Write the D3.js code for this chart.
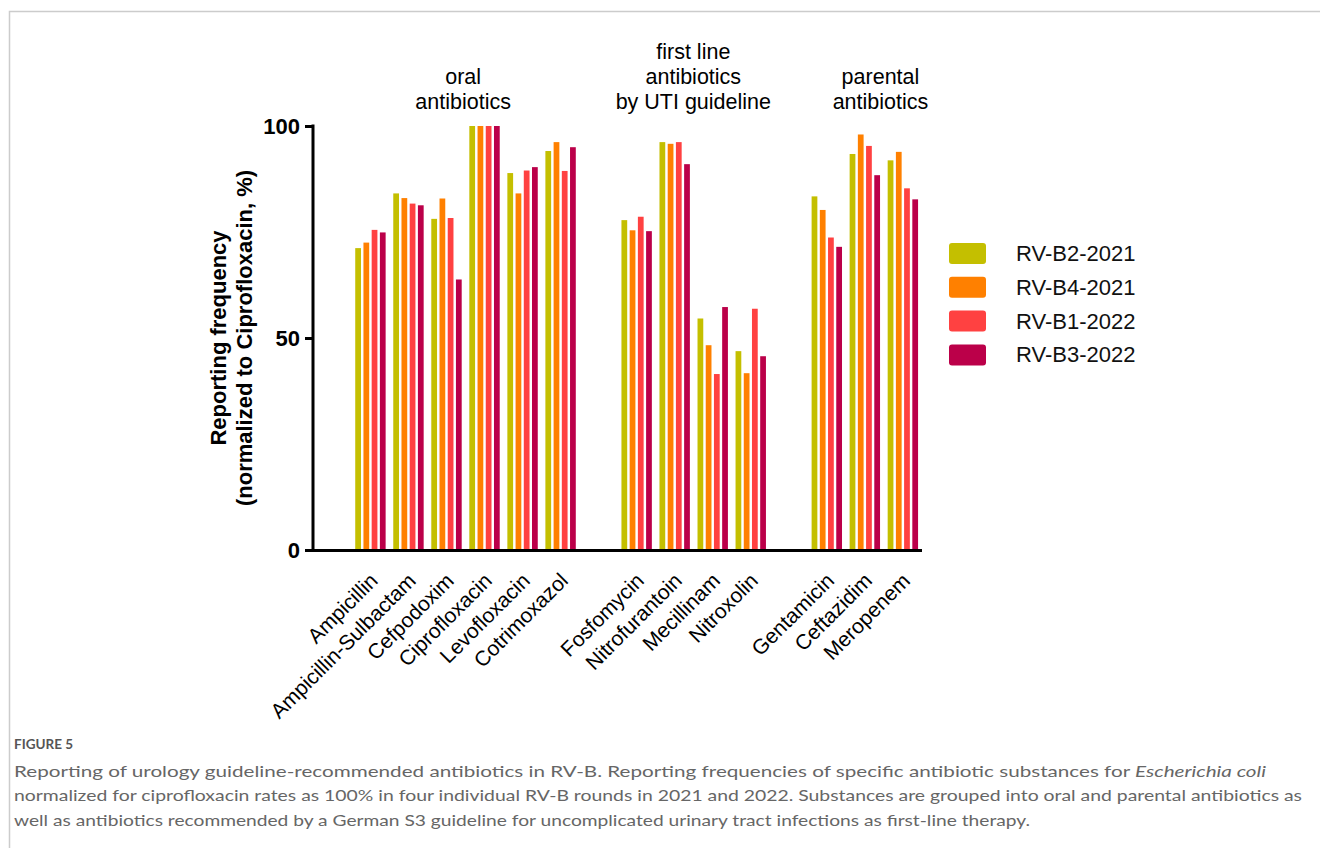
<!DOCTYPE html>
<html>
<head>
<meta charset="utf-8">
<script src="https://cdn.jsdelivr.net/npm/d3@7"></script>
<style>
  body { margin: 0; background: #fff; }
  svg { display: block; }
</style>
</head>
<body>
<div id="chart"></div>
<script>
// data
var categories = ["Ampicillin", "Ampicillin-Sulbactam", "Cefpodoxim", "Ciprofloxacin", "Levofloxacin", "Cotrimoxazol",
                  "Fosfomycin", "Nitrofurantoin", "Mecillinam", "Nitroxolin",
                  "Gentamicin", "Ceftazidim", "Meropenem"];
var groupOf = [0, 0, 0, 0, 0, 0, 1, 1, 1, 1, 2, 2, 2];
var groupLabels = [["oral", "antibiotics"], ["first line", "antibiotics", "by UTI guideline"], ["parental", "antibiotics"]];
var seriesNames = ["RV-B2-2021", "RV-B4-2021", "RV-B1-2022", "RV-B3-2022"];
var rvB2_2021 = [71.2, 84.1, 78.1, 100, 88.9, 94.1, 77.8, 96.2, 54.6, 46.9, 83.4, 93.4, 91.9];
var rvB4_2021 = [72.5, 83.0, 82.9, 100, 84.1, 96.2, 75.4, 95.8, 48.3, 41.7, 80.2, 98.0, 93.9];
var rvB1_2022 = [75.5, 81.7, 78.3, 100, 89.5, 89.4, 78.6, 96.2, 41.5, 56.9, 73.7, 95.3, 85.3];
var rvB3_2022 = [74.9, 81.3, 63.8, 100, 90.3, 95.0, 75.2, 91.0, 57.3, 45.7, 71.5, 88.4, 82.7];
var yTicks = [0, 50, 100];

var seriesValues = [rvB2_2021, rvB4_2021, rvB1_2022, rvB3_2022];
var colors = ["#c4bf00", "#ff8000", "#ff4141", "#bb0049"];

var W = 1320, H = 848;
var svg = d3.select("#chart").append("svg")
    .attr("width", W)
    .attr("height", H);

// frame lines of the figure box
svg.append("path")
    .attr("d", "M9.5,848V11.5H1320")
    .attr("fill", "none")
    .attr("stroke", "#cccccc")
    .attr("stroke-width", 1.5);

var font = "'Liberation Sans', Arial, sans-serif";

// slots: one empty slot before, and one between each group
var slots = ["_pad"];
categories.forEach(function(c, i) {
    if (i > 0 && groupOf[i] !== groupOf[i - 1]) slots.push("_gap" + groupOf[i]);
    slots.push(c);
});

var x = d3.scaleBand().domain(slots).range([313, 921.5]).padding(0);
var xs = d3.scaleBand().domain(seriesNames).range([4.2, 34.6]).paddingInner(0.3).paddingOuter(0);
var y = d3.scaleLinear().domain([0, 100]).range([550, 126]);

// bars
var rows = [];
categories.forEach(function(c, i) {
    seriesNames.forEach(function(s, j) {
        rows.push({cat: c, series: s, value: seriesValues[j][i], color: colors[j]});
    });
});

svg.append("g").selectAll("rect")
    .data(rows)
    .enter().append("rect")
    .attr("x", d => x(d.cat) + xs(d.series))
    .attr("y", d => y(d.value))
    .attr("width", xs.bandwidth())
    .attr("height", d => y(0) - y(d.value))
    .attr("fill", d => d.color);

// y axis
var yAxis = svg.append("g")
    .attr("transform", "translate(313,0)")
    .call(d3.axisLeft(y).tickValues(yTicks).tickSize(8).tickSizeOuter(0).tickPadding(5).tickFormat(d3.format("d")));
yAxis.select(".domain").attr("stroke", "#000").attr("stroke-width", 3).attr("d", "M0," + (y(100) - 1.5) + "V" + (y(0) + 1.5));
yAxis.selectAll(".tick line").attr("stroke", "#000").attr("stroke-width", 3);
yAxis.selectAll(".tick text")
    .attr("fill", "#000")
    .style("font-family", font)
    .style("font-weight", "bold")
    .style("font-size", "22px");

// x axis
var xAxis = svg.append("g")
    .attr("transform", "translate(0," + y(0) + ")")
    .call(d3.axisBottom(x).tickValues(categories).tickSize(0).tickSizeOuter(0));
xAxis.select(".domain").attr("stroke", "#000").attr("stroke-width", 3).attr("d", "M311.5,0.5H922");
xAxis.selectAll(".tick text")
    .attr("fill", "#000")
    .attr("y", 0)
    .attr("dy", 0)
    .attr("text-anchor", "end")
    .attr("transform", "translate(9,32) rotate(-45)")
    .style("font-family", font)
    .style("font-size", "21px");

// y axis title
var yTitle = svg.append("g")
    .attr("transform", "translate(0," + ((y(0) + y(100)) / 2) + ") rotate(-90)")
    .style("font-family", font)
    .style("font-weight", "bold")
    .style("font-size", "22px")
    .attr("text-anchor", "middle");
yTitle.append("text").attr("x", 0).attr("y", 226).text("Reporting frequency");
yTitle.append("text").attr("x", 0).attr("y", 252).text("(normalized to Ciprofloxacin, %)");

// group labels above the bars
var labelShift = [-2, 0, 16];
groupLabels.forEach(function(lines, g) {
    var members = categories.filter((c, i) => groupOf[i] === g);
    var cx = (x(members[0]) + x(members[members.length - 1]) + x.bandwidth()) / 2 + labelShift[g];
    var t = svg.append("text")
        .attr("text-anchor", "middle")
        .style("font-family", font)
        .style("font-size", "21.5px")
        .attr("fill", "#000");
    lines.forEach(function(line, k) {
        t.append("tspan")
            .attr("x", cx)
            .attr("y", 109 - (lines.length - 1 - k) * 25)
            .text(line);
    });
});

// legend
var legend = svg.append("g").attr("transform", "translate(949,243)");
seriesNames.forEach(function(s, j) {
    var g = legend.append("g").attr("transform", "translate(0," + (j * 33.8) + ")");
    g.append("rect")
        .attr("width", 37)
        .attr("height", 21)
        .attr("rx", 3)
        .attr("fill", colors[j]);
    g.append("text")
        .attr("x", 67)
        .attr("y", 18)
        .style("font-family", font)
        .style("font-size", "22px")
        .attr("fill", "#111")
        .text(s);
});

// caption
var capFont = "Lato, 'Open Sans', sans-serif";
svg.append("text")
    .attr("x", 14)
    .attr("y", 749)
    .attr("fill", "#555")
    .style("font-family", capFont)
    .style("font-size", "13.5px")
    .style("font-weight", "bold")
    .text("FIGURE 5");

var cap1 = svg.append("text")
    .attr("x", 14).attr("y", 777)
    .attr("fill", "#666")
    .attr("textLength", 1252)
    .attr("lengthAdjust", "spacingAndGlyphs")
    .style("font-family", capFont)
    .style("font-size", "16px");
cap1.append("tspan").text("Reporting of urology guideline-recommended antibiotics in RV-B. Reporting frequencies of specific antibiotic substances for ");
cap1.append("tspan").style("font-style", "italic").text("Escherichia coli");

svg.append("text")
    .attr("x", 14).attr("y", 801)
    .attr("fill", "#666")
    .attr("textLength", 1288)
    .attr("lengthAdjust", "spacingAndGlyphs")
    .style("font-family", capFont)
    .style("font-size", "16px")
    .text("normalized for ciprofloxacin rates as 100% in four individual RV-B rounds in 2021 and 2022. Substances are grouped into oral and parental antibiotics as");

svg.append("text")
    .attr("x", 14).attr("y", 826)
    .attr("fill", "#666")
    .attr("textLength", 1016)
    .attr("lengthAdjust", "spacingAndGlyphs")
    .style("font-family", capFont)
    .style("font-size", "16px")
    .text("well as antibiotics recommended by a German S3 guideline for uncomplicated urinary tract infections as first-line therapy.");
</script>
</body>
</html>
